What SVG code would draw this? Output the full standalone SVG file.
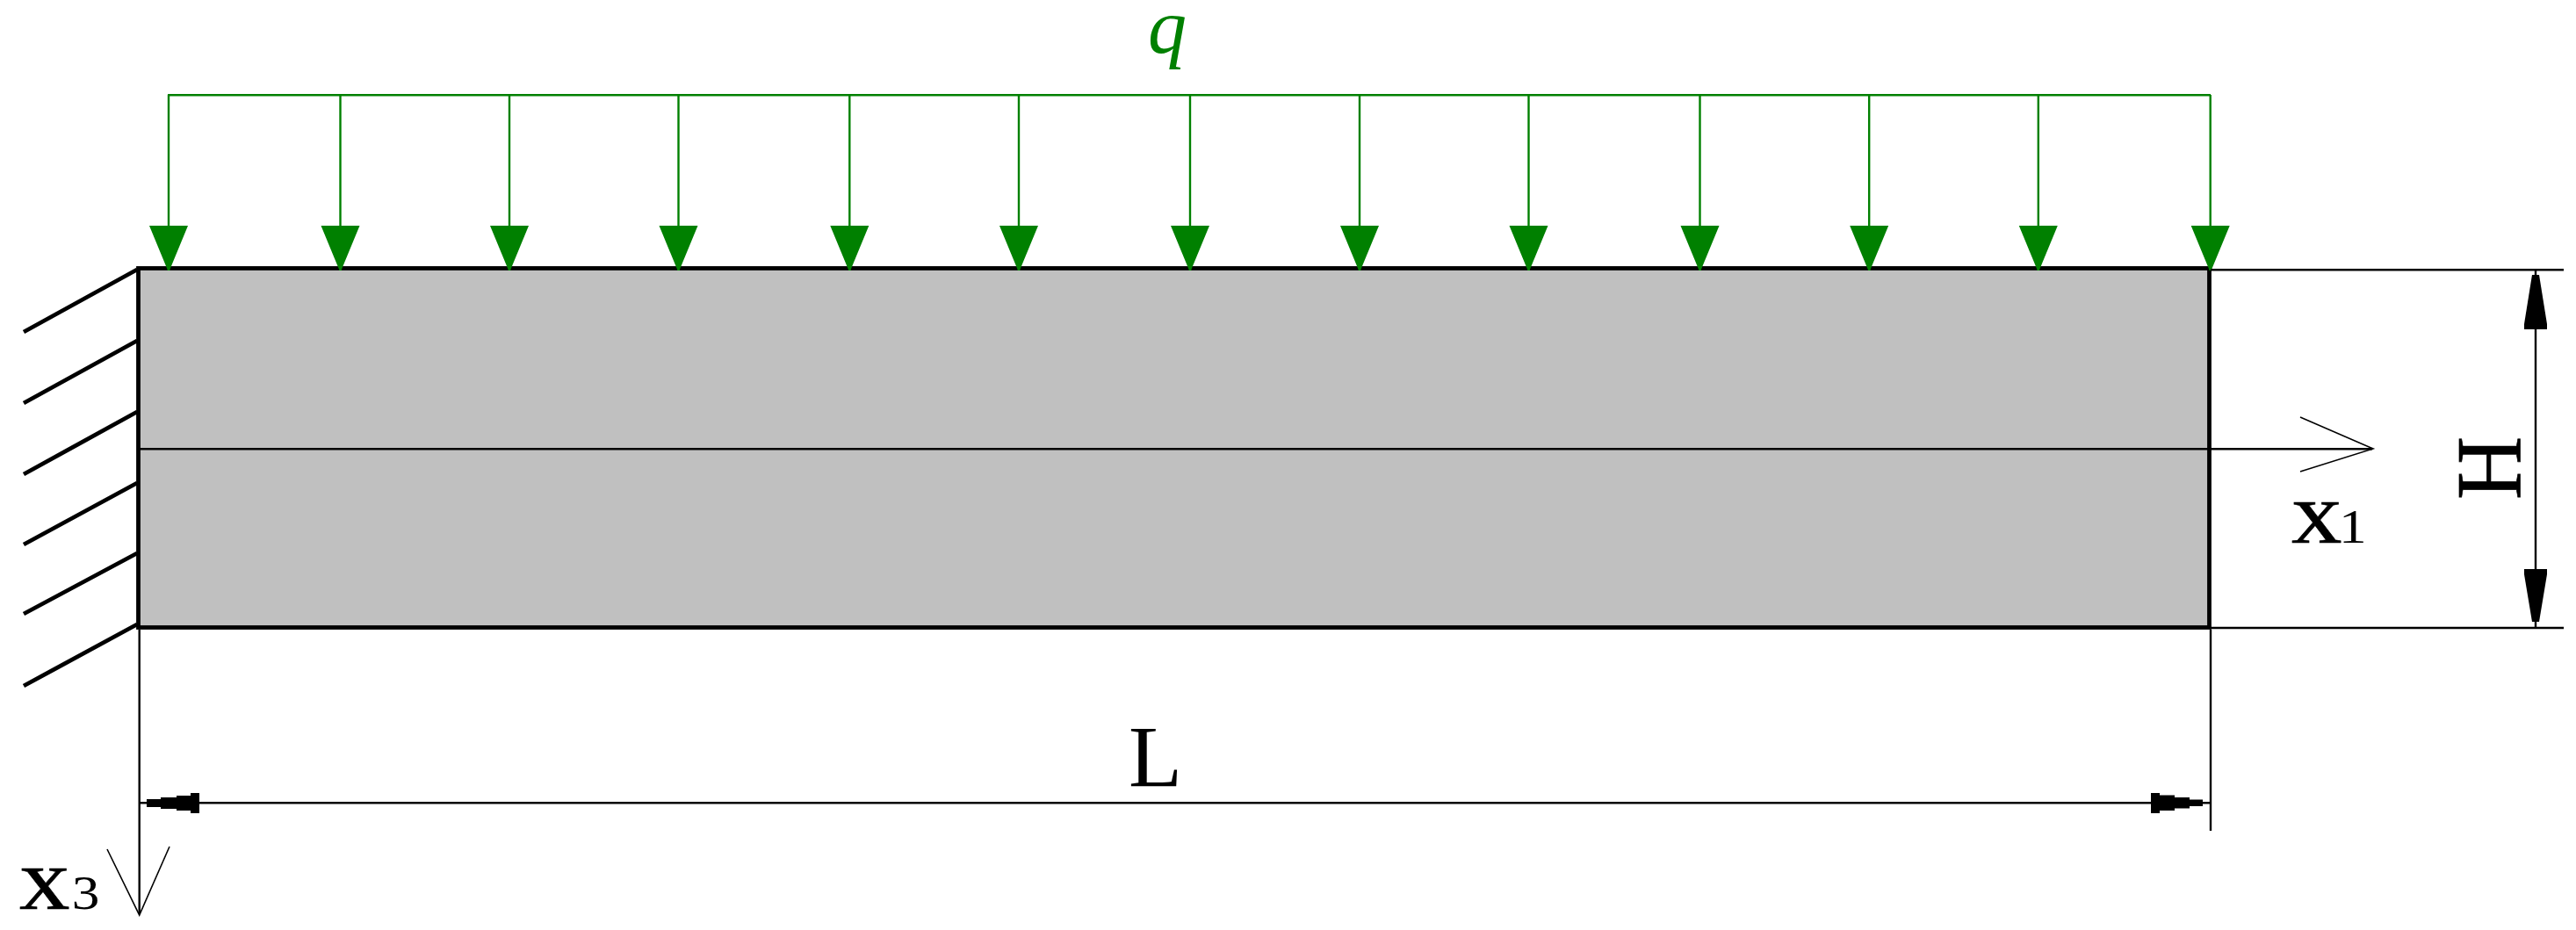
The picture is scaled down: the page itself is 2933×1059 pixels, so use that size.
<svg xmlns="http://www.w3.org/2000/svg" width="2933" height="1059" viewBox="0 0 2933 1059">
<style>
.thin{stroke:#000;stroke-width:2.4;fill:none}
.open{stroke:#000;stroke-width:1.6;fill:none}
.wall{stroke:#000;stroke-width:4.8;fill:none}
.load{stroke:#008000;stroke-width:2.4;fill:none}
.head{fill:#008000}
.blk{fill:#000}
text{font-family:"Liberation Serif","Times New Roman",serif;fill:#000}
.big{font-size:100px}
.heavy{stroke:#000;stroke-width:0.6}
.sub{font-size:55px;stroke:none}
</style>
<defs>
<g id="arrow"><path class="load" d="M0 108V308"/><polygon class="head" points="-22,257 22,257 3,303 1,308 -1,308 -3,303"/></g>
</defs>
<rect width="2933" height="1059" fill="#fff"/>
<g id="beam">
<rect x="157.500" y="305.500" width="2358" height="409" fill="#c0c0c0" stroke="#000" stroke-width="4.800"/>
</g>
<g id="support">
<path class="wall" d="M27 378L156 307M27 459L156 388M27 540L156 469M27 620L156 550M27 699L156 630M27 781L156 711"/>
</g>
<g id="connectors">
<path class="load" d="M191 108.300H2517"/>
<use href="#arrow" x="192"/><use href="#arrow" x="387.500"/><use href="#arrow" x="580"/><use href="#arrow" x="772.500"/><use href="#arrow" x="967.300"/><use href="#arrow" x="1160"/><use href="#arrow" x="1355"/><use href="#arrow" x="1548"/><use href="#arrow" x="1740.500"/><use href="#arrow" x="1935.500"/><use href="#arrow" x="2128.200"/><use href="#arrow" x="2320.800"/><use href="#arrow" x="2516.700"/>
<path class="thin" d="M158 511.200H2701"/>
<path class="open" d="M2619 475L2702 511L2619 537"/>
<path class="thin" d="M158.700 717V1040"/>
<path class="open" d="M122 967L158.700 1042L193 964"/>
<path class="thin" d="M2517 717V946"/>
<path class="thin" d="M2517 307.300H2919M2517 715H2919"/>
<path class="thin" d="M159 914.300H2517"/>
<path class="thin" d="M2887 307.300V715"/>
<polygon class="blk" points="167,910 183,910 183,908 201,908 201,906 217,906 217,903 227,903 227,926 217,926 217,923 201,923 201,921 183,921 183,919 167,919"/>
<polygon class="blk" points="2508,910.500 2493,910.500 2493,908 2476,908 2476,905.500 2459,905.500 2459,903 2449,903 2449,926 2459,926 2459,923 2476,923 2476,920.500 2493,920.500 2493,918 2508,918"/>
<polygon class="blk" points="2883,313 2891,313 2900,369 2900,375 2874,375 2874,369"/>
<polygon class="blk" points="2874,648 2900,648 2900,654 2891,708 2883,708 2874,654"/>
</g>
<g id="label-q"><text x="1307" y="60" font-size="88" font-style="italic" style="fill:#008000">q</text></g>
<g id="label-L"><text class="big" x="1285" y="895">L</text></g>
<g id="label-H"><text class="big heavy" text-anchor="middle" transform="translate(2869,533) rotate(-90) scale(1,1.060)">H</text></g>
<g id="label-x1"><text class="big heavy" transform="translate(2609,618) scale(1.150,1)">x<tspan class="sub" dx="-3">1</tspan></text></g>
<g id="label-x3"><text class="big heavy" transform="translate(22,1035) scale(1.150,1)">x<tspan class="sub" dx="2">3</tspan></text></g>
</svg>
